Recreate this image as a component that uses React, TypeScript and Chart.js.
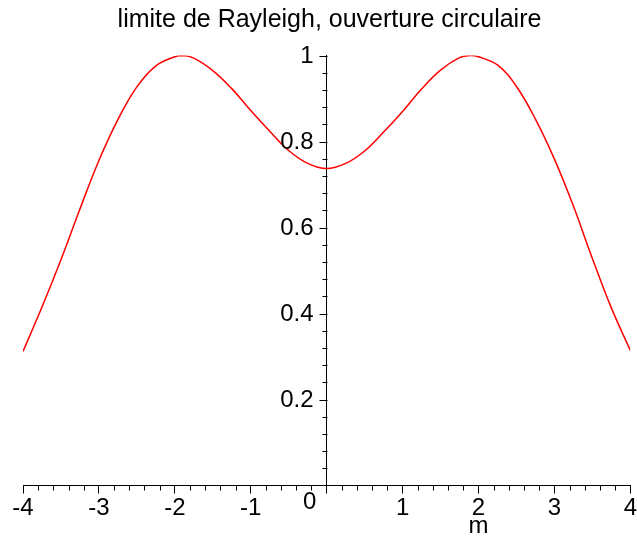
import React, { useEffect, useRef } from "react";
import { Chart, registerables } from "chart.js";

Chart.register(...registerables);

const TITLE = "limite de Rayleigh, ouverture circulaire";
const X_LABEL = "m";

// m values
const M_VALUES = [
  -4, -3.75, -3.5, -3.25, -3, -2.75, -2.5, -2.25, -2, -1.9, -1.75, -1.5, -1.25, -1,
  -0.75, -0.5, -0.25, 0, 0.25, 0.5, 0.75, 1, 1.25, 1.5, 1.75, 1.9, 2, 2.25, 2.5,
  2.75, 3, 3.25, 3.5, 3.75, 4,
];
// intensity values
const INTENSITY = [
  0.312, 0.415, 0.525, 0.643, 0.756, 0.851, 0.927, 0.976, 0.997, 1.0, 0.994, 0.965,
  0.923, 0.872, 0.824, 0.779, 0.749, 0.737, 0.749, 0.778, 0.822, 0.870, 0.922, 0.966,
  0.995, 1.0, 0.997, 0.978, 0.928, 0.852, 0.759, 0.650, 0.528, 0.413, 0.314,
];

const X_TICKS = [-4, -3, -2, -1, 0, 1, 2, 3, 4];
const Y_TICKS = [0, 0.2, 0.4, 0.6, 0.8, 1];
const Y_TICK_LABELS = ["", "0.2", "0.4", "0.6", "0.8", "1"];

const FONT = "'Liberation Sans', Arial, sans-serif";

const extrasPlugin = {
  id: "maplePlotExtras",
  afterDraw(chart: any) {
    const ctx = chart.ctx;
    const xs = chart.scales.x;
    const ys = chart.scales.y;
    const axisY = Math.round(ys.getPixelForValue(0)) - 0.5;
    const axisX = Math.round(xs.getPixelForValue(0)) + 0.5;
    ctx.save();
    ctx.strokeStyle = "#000";
    ctx.lineWidth = 1;
    ctx.beginPath();
    // minor ticks on the horizontal axis
    for (let i = -20; i <= 20; i++) {
      if (i % 5 === 0) continue;
      const px = Math.round(xs.getPixelForValue(i / 5)) + 0.5;
      ctx.moveTo(px, axisY);
      ctx.lineTo(px, axisY + 5);
    }
    // minor and major ticks on the vertical axis
    for (let j = 1; j <= 25; j++) {
      const py = Math.round(ys.getPixelForValue(j * 0.04)) + 0.5;
      const len = j % 5 === 0 ? 8 : 5;
      ctx.moveTo(axisX - len, py);
      ctx.lineTo(axisX, py);
    }
    ctx.stroke();
    ctx.fillStyle = "#000";
    ctx.font = `24px ${FONT}`;
    // vertical axis tick labels, right-aligned left of the ticks
    ctx.textAlign = "right";
    ctx.textBaseline = "middle";
    Y_TICKS.forEach((v, k) => {
      const label = Y_TICK_LABELS[k];
      if (!label) return;
      ctx.fillText(label, axisX - 14, ys.getPixelForValue(v) + 1);
    });
    // origin label, placed left of the vertical axis
    ctx.textAlign = "center";
    ctx.textBaseline = "alphabetic";
    ctx.fillText("0", xs.getPixelForValue(0) - 17, axisY + 23);
    // axis label
    ctx.fillText(X_LABEL, xs.getPixelForValue(2), 533);
    ctx.restore();
  },
};

export default function App() {
  const ref = useRef<HTMLCanvasElement | null>(null);
  useEffect(() => {
    if (!ref.current) return;
    const points = M_VALUES.map((m, i) => ({ x: m, y: INTENSITY[i] }));
    const chart = new Chart(ref.current, {
      type: "scatter",
      data: {
        datasets: [
          {
            data: points,
            showLine: true,
            borderColor: "#ff0000",
            backgroundColor: "#ff0000",
            borderWidth: 1.5,
            pointRadius: 0,
            tension: 0.4,
          } as any,
        ],
      },
      options: {
        animation: false,
        responsive: false,
        devicePixelRatio: 1,
        layout: { padding: { top: 0, left: 23, right: 1, bottom: 21.5 } },
        plugins: {
          legend: { display: false },
          tooltip: { enabled: false },
          title: {
            display: true,
            text: TITLE,
            color: "#000",
            font: { family: FONT, size: 25, weight: "normal" },
            padding: { top: 5, bottom: 20.5 },
          },
        },
        scales: {
          x: {
            type: "linear",
            position: "bottom",
            min: -4,
            max: 4,
            afterBuildTicks: (s: any) => {
              s.ticks = X_TICKS.map((v) => ({ value: v }));
            },
            afterFit: (s: any) => {
              s.height = 30;
            },
            grid: {
              display: true,
              drawOnChartArea: false,
              drawTicks: true,
              tickLength: 8,
              color: "#000",
            },
            border: { display: true, color: "#000", width: 1 },
            ticks: {
              color: "#000",
              font: { family: FONT, size: 24 },
              padding: 0,
              maxRotation: 0,
              autoSkip: false,
              callback: (v: any) => (Number(v) === 0 ? "" : String(v)),
            },
          },
          y: {
            type: "linear",
            position: { x: 0 } as any,
            min: 0,
            max: 1,
            afterBuildTicks: (s: any) => {
              s.ticks = Y_TICKS.map((v) => ({ value: v }));
            },
            afterFit: (s: any) => {
              s.width = 0;
            },
            grid: {
              display: true,
              drawOnChartArea: false,
              drawTicks: false,
              color: "#000",
            },
            border: { display: true, color: "#000", width: 1 },
            ticks: { display: false },
          },
        },
      },
      plugins: [extrasPlugin],
    });
    return () => chart.destroy();
  }, []);
  return (
    <div style={{ position: "absolute", left: 0, top: 0, width: 637, height: 537, background: "#fff" }}>
      <canvas ref={ref} width={637} height={537} style={{ display: "block" }} />
    </div>
  );
}
